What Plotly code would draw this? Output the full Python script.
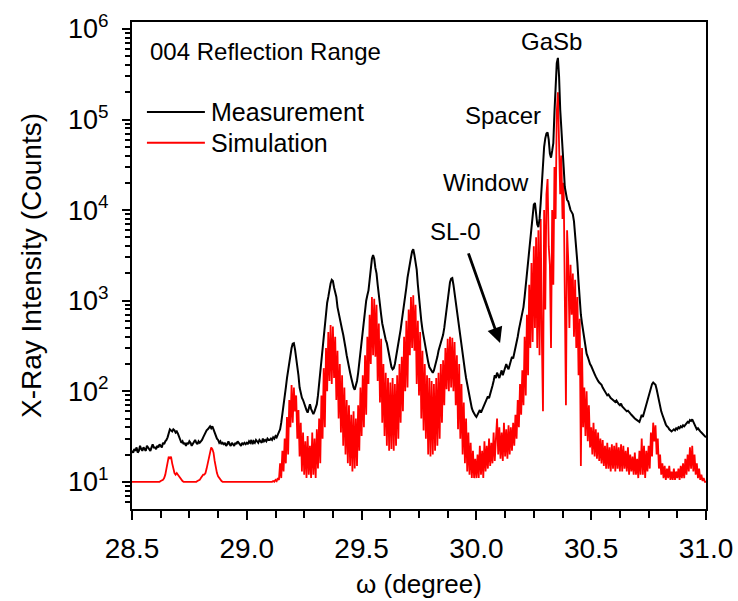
import plotly.graph_objects as go

# omega grid: start and step (degrees), 501 samples from 28.5 to 31.0
omega_start = 28.5
omega_step = 0.005

# Measured intensity (counts), one row per 0.1 degree
measurement = [
    22, 21, 23, 22, 24, 21, 22, 25, 23, 22, 24, 23, 22, 25, 24, 23, 22, 24, 26, 24,  # 28.5
    24, 23, 25, 24, 26, 25, 24, 27, 26, 28, 29, 31, 35, 38, 37, 36, 38, 37, 35, 36,  # 28.6
    34, 31, 28, 27, 28, 26, 27, 25, 27, 26, 28, 27, 25, 26, 27, 29, 27, 26, 28, 27,  # 28.7
    28, 29, 31, 33, 35, 37, 38, 40, 41, 39, 41, 38, 35, 32, 30, 29, 27, 28, 26, 27,  # 28.8
    26, 27, 25, 26, 28, 26, 25, 27, 26, 25, 27, 26, 28, 27, 26, 25, 27, 26, 27, 26,  # 28.9
    27, 26, 28, 27, 29, 26, 28, 27, 29, 28, 27, 29, 28, 27, 30, 28, 29, 28, 30, 29,  # 29.0
    29, 30, 29, 31, 30, 32, 31, 33, 36, 38, 45, 55, 68, 85, 110, 140, 175, 215, 260, 300,  # 29.1
    335, 340, 290, 240, 200, 150, 110, 95, 85, 80, 72, 66, 62, 58, 65, 72, 64, 58, 56, 60,  # 29.2
    66, 72, 90, 120, 160, 230, 320, 440, 600, 820, 950, 1100, 1350, 1550, 1700, 1650, 1400, 1200, 1100, 850,  # 29.3
    720, 660, 560, 480, 420, 370, 300, 250, 210, 180, 160, 140, 120, 110, 104, 115, 130, 160, 210, 290,  # 29.4
    380, 480, 620, 800, 1000, 1150, 1300, 1700, 2300, 2900, 3200, 2900, 2300, 2000, 1500, 1100, 850, 700, 560, 480,  # 29.5
    420, 370, 340, 290, 230, 200, 185, 175, 180, 200, 235, 280, 340, 400, 480, 600, 720, 900, 1150, 1400,  # 29.6
    1800, 2200, 2600, 3000, 3500, 3700, 3200, 2600, 2200, 1500, 1050, 800, 600, 480, 400, 330, 270, 240, 210, 185,  # 29.7
    174, 165, 160, 170, 190, 205, 240, 280, 310, 340, 380, 420, 500, 650, 850, 1100, 1400, 1600, 1750, 1780,  # 29.8
    1500, 1200, 930, 750, 560, 460, 380, 300, 240, 205, 170, 140, 118, 104, 90, 75, 65, 60, 56, 54,  # 29.9
    52, 55, 60, 62, 58, 62, 66, 70, 76, 82, 88, 84, 92, 100, 115, 130, 150, 140, 160, 150,  # 30.0
    140, 155, 170, 150, 165, 180, 200, 185, 175, 195, 220, 240, 230, 260, 300, 340, 400, 480, 560, 640,  # 30.1
    720, 850, 1100, 1500, 2000, 2800, 3600, 4500, 6500, 9000, 11500, 12000, 9000, 7000, 6500, 8000, 12000, 20000, 32000, 50000,  # 30.2
    62000, 70000, 72000, 60000, 42000, 38000, 45000, 55000, 120000, 250000, 420000, 480000, 300000, 130000, 70000, 50000, 30000, 18000, 15000, 13000,  # 30.3
    12500, 11000, 10000, 9500, 9000, 7500, 5600, 4000, 2600, 1600, 1000, 700, 560, 450, 360, 300, 260, 240, 215, 200,  # 30.4
    190, 175, 165, 155, 145, 135, 130, 125, 122, 118, 110, 105, 100, 95, 90, 92, 86, 84, 82, 80,  # 30.5
    78, 76, 79, 74, 72, 70, 73, 68, 66, 64, 62, 60, 61, 58, 57, 55, 53, 52, 50, 49,  # 30.6
    48, 47, 46, 50, 55, 52, 58, 66, 70, 78, 88, 100, 112, 120, 125, 122, 118, 105, 90, 76,  # 30.7
    66, 60, 55, 50, 46, 43, 41, 40, 38, 37, 36, 37, 38, 37, 39, 38, 40, 39, 41, 40,  # 30.8
    42, 41, 43, 44, 46, 45, 48, 47, 49, 46, 43, 40, 38, 39, 37, 36, 35, 34, 33, 32,  # 30.9
    31,  # 31.0
]

# Simulated intensity (counts), one row per 0.1 degree
simulation = [
    10, 10, 10, 10, 10, 10, 10, 10, 10, 10, 10, 10, 10, 10, 10, 10, 10, 10, 10, 10,  # 28.5
    10, 10, 10, 10, 10, 10.2, 10.3, 10.5, 11, 12, 14, 17, 19, 18, 19, 16, 14, 12.5, 12, 12.5,  # 28.6
    12, 11.5, 11, 10.5, 10.2, 10, 10, 10.1, 10, 10, 10, 10, 10, 10.1, 10, 10, 10, 10.2, 10.3, 10.5,  # 28.7
    11, 11.5, 12, 12, 12.5, 14, 16, 19, 22, 24, 23, 21, 17, 14, 12.5, 11.5, 11, 10.5, 10.2, 10,  # 28.8
    10, 10, 10, 10, 10, 10, 10, 10, 10, 10, 10, 10, 10, 10, 10, 10, 10, 10, 10, 10,  # 28.9
    10, 10, 10, 10, 10, 10, 10, 10, 10, 10, 10, 10, 10, 10, 10, 10, 10, 10, 10, 10,  # 29.0
    10, 10, 10, 10.2, 10, 10.5, 10.2, 11, 10.5, 16, 11, 22, 13, 30, 16, 52, 20, 80, 40, 117,  # 29.1
    45, 110, 60, 90, 30, 62, 19, 45, 13, 35, 12, 28, 11, 32, 12, 25, 11, 35, 12, 30,  # 29.2
    11, 38, 14, 50, 16, 90, 30, 180, 40, 300, 100, 450, 130, 540, 120, 520, 140, 400, 80, 280,  # 29.3
    50, 200, 35, 150, 25, 110, 20, 80, 16, 70, 15, 55, 13, 60, 14, 50, 15, 70, 22, 110,  # 29.4
    32, 150, 40, 250, 55, 400, 120, 700, 200, 1100, 250, 1050, 240, 900, 130, 560, 75, 380, 45, 200,  # 29.5
    32, 160, 25, 140, 22, 125, 23, 140, 22, 120, 25, 150, 30, 200, 45, 240, 60, 400, 100, 600,  # 29.6
    110, 800, 250, 1100, 300, 1150, 280, 900, 120, 600, 90, 450, 50, 280, 37, 200, 30, 150, 20, 140,  # 29.7
    19, 130, 20, 120, 22, 140, 25, 160, 30, 200, 45, 220, 70, 300, 105, 380, 100, 400, 110, 390,  # 29.8
    100, 350, 70, 250, 38, 200, 30, 120, 20, 75, 16, 50, 13, 35, 12, 27, 11, 22, 11, 18,  # 29.9
    11, 20, 11, 25, 12, 22, 11, 28, 13, 25, 14, 30, 15, 27, 16, 35, 17, 30, 50, 20,  # 30.0
    40, 18, 35, 17, 45, 19, 38, 18, 42, 20, 40, 22, 45, 25, 55, 30, 80, 40, 120, 55,  # 30.1
    170, 70, 400, 90, 700, 150, 1500, 300, 2600, 350, 4000, 500, 5000, 300, 6000, 250, 8000, 400, 60, 10000,  # 30.2
    800, 15000, 22000, 4000, 2500, 300, 10000, 1500, 30000, 8000, 120000, 200000, 60000, 15000, 40000, 8000, 20000, 1500, 70, 6000,  # 30.3
    2800, 500, 2500, 700, 2000, 400, 1700, 300, 1100, 150, 630, 15, 300, 40, 110, 32, 100, 28, 70, 24,  # 30.4
    40, 20, 45, 19, 38, 18, 35, 17, 30, 16, 29, 15, 25, 14, 27, 14, 24, 13, 26, 14,  # 30.5
    25, 13, 27, 14, 24, 13, 26, 13, 25, 14, 22, 13, 24, 12, 20, 13, 19, 12, 21, 12,  # 30.6
    18, 11, 22, 12, 30, 12, 25, 11, 22, 13, 25, 14, 35, 19, 45, 28, 42, 20, 30, 14,  # 30.7
    20, 12, 16, 11, 15, 10.5, 14, 11, 15, 10.5, 13, 10.5, 14, 10.5, 13, 11, 14, 10.5, 15, 11,  # 30.8
    16, 11, 18, 12, 20, 13, 24, 14, 25, 13, 20, 12, 16, 11, 14, 10.5, 12, 10.2, 11, 10,  # 30.9
    10,  # 31.0
]

series_names = ["Measurement", "Simulation"]
x_tick_values = [28.5, 29.0, 29.5, 30.0, 30.5, 31.0]
x_tick_labels = ["28.5", "29.0", "29.5", "30.0", "30.5", "31.0"]
y_tick_values = [10, 100, 1000, 10000, 100000, 1000000]
y_tick_labels = ["10<sup>1</sup>", "10<sup>2</sup>", "10<sup>3</sup>",
                 "10<sup>4</sup>", "10<sup>5</sup>", "10<sup>6</sup>"]

FONT = "Liberation Sans, Arial, Helvetica, sans-serif"

fig = go.Figure()
fig.add_trace(go.Scatter(
    x0=omega_start, dx=omega_step, y=simulation, mode="lines",
    name=series_names[1], line=dict(color="#ff0000", width=1.8),
    showlegend=False,
))
fig.add_trace(go.Scatter(
    x0=omega_start, dx=omega_step, y=measurement, mode="lines",
    name=series_names[0], line=dict(color="#000000", width=2),
    showlegend=False,
))

# Hand-drawn legend (long line samples as in the original)
for i, (name, col) in enumerate(zip(series_names, ["#000000", "#ff0000"])):
    yy = [0.815, 0.752][i]
    fig.add_shape(type="line", xref="paper", yref="paper",
                  x0=0.026, x1=0.127, y0=yy, y1=yy,
                  line=dict(color=col, width=2))
    fig.add_annotation(xref="paper", yref="paper", x=0.134, y=yy,
                       text=name, showarrow=False, xanchor="left", yanchor="middle",
                       font=dict(family=FONT, size=25, color="black"))

labels = [
    ("004 Reflection Range", 28.57, 5.746, "left"),
    ("GaSb", 30.325, 5.857, "center"),
    ("Spacer", 30.116, 5.05, "center"),
    ("Window", 30.042, 4.31, "center"),
    ("SL-0", 29.911, 3.76, "center"),
]
for txt, xx, yy, anc in labels:
    fig.add_annotation(x=xx, y=yy, xref="x", yref="y", text=txt, showarrow=False,
                       xanchor=anc, yanchor="middle",
                       font=dict(family=FONT, size=24, color="black"))

# Arrow pointing at SL-0 peak
fig.add_annotation(x=30.103, y=2.534, ax=29.963, ay=3.539, xref="x", yref="y",
                   axref="x", ayref="y", text="", showarrow=True,
                   arrowhead=2, arrowsize=1.1, arrowwidth=2.8, arrowcolor="black")

fig.update_layout(
    width=738, height=601,
    margin=dict(l=132, r=32, t=22, b=92, autoexpand=False),
    paper_bgcolor="white", plot_bgcolor="white",
    font=dict(family=FONT, size=24, color="black"),
)
fig.update_xaxes(
    range=[28.5, 31.0], tickvals=x_tick_values, ticktext=x_tick_labels,
    ticks="outside", ticklen=9, tickwidth=2, tickcolor="black",
    minor=dict(ticks="outside", ticklen=7, tickwidth=2, tickcolor="black", dtick=0.125, showgrid=False),
    showline=True, linecolor="black", linewidth=2, mirror=True,
    showgrid=False, zeroline=False, automargin=False,
    tickfont=dict(family=FONT, size=28), ticklabelstandoff=4,
    title=dict(text="ω (degree)", font=dict(family=FONT, size=26), standoff=12),
)
fig.update_yaxes(
    type="log", range=[0.70, 6.077], tickvals=y_tick_values, ticktext=y_tick_labels,
    ticks="outside", ticklen=8, tickwidth=2, tickcolor="black",
    minor=dict(ticks="outside", ticklen=5, tickwidth=1.5, tickcolor="black", dtick="D1", showgrid=False),
    showline=True, linecolor="black", linewidth=2, mirror=True,
    showgrid=False, zeroline=False, automargin=False,
    tickfont=dict(family=FONT, size=27), ticklabelstandoff=8,
    title=dict(text="X-Ray Intensity (Counts)", font=dict(family=FONT, size=28), standoff=18),
)

fig.write_html("out.html")
